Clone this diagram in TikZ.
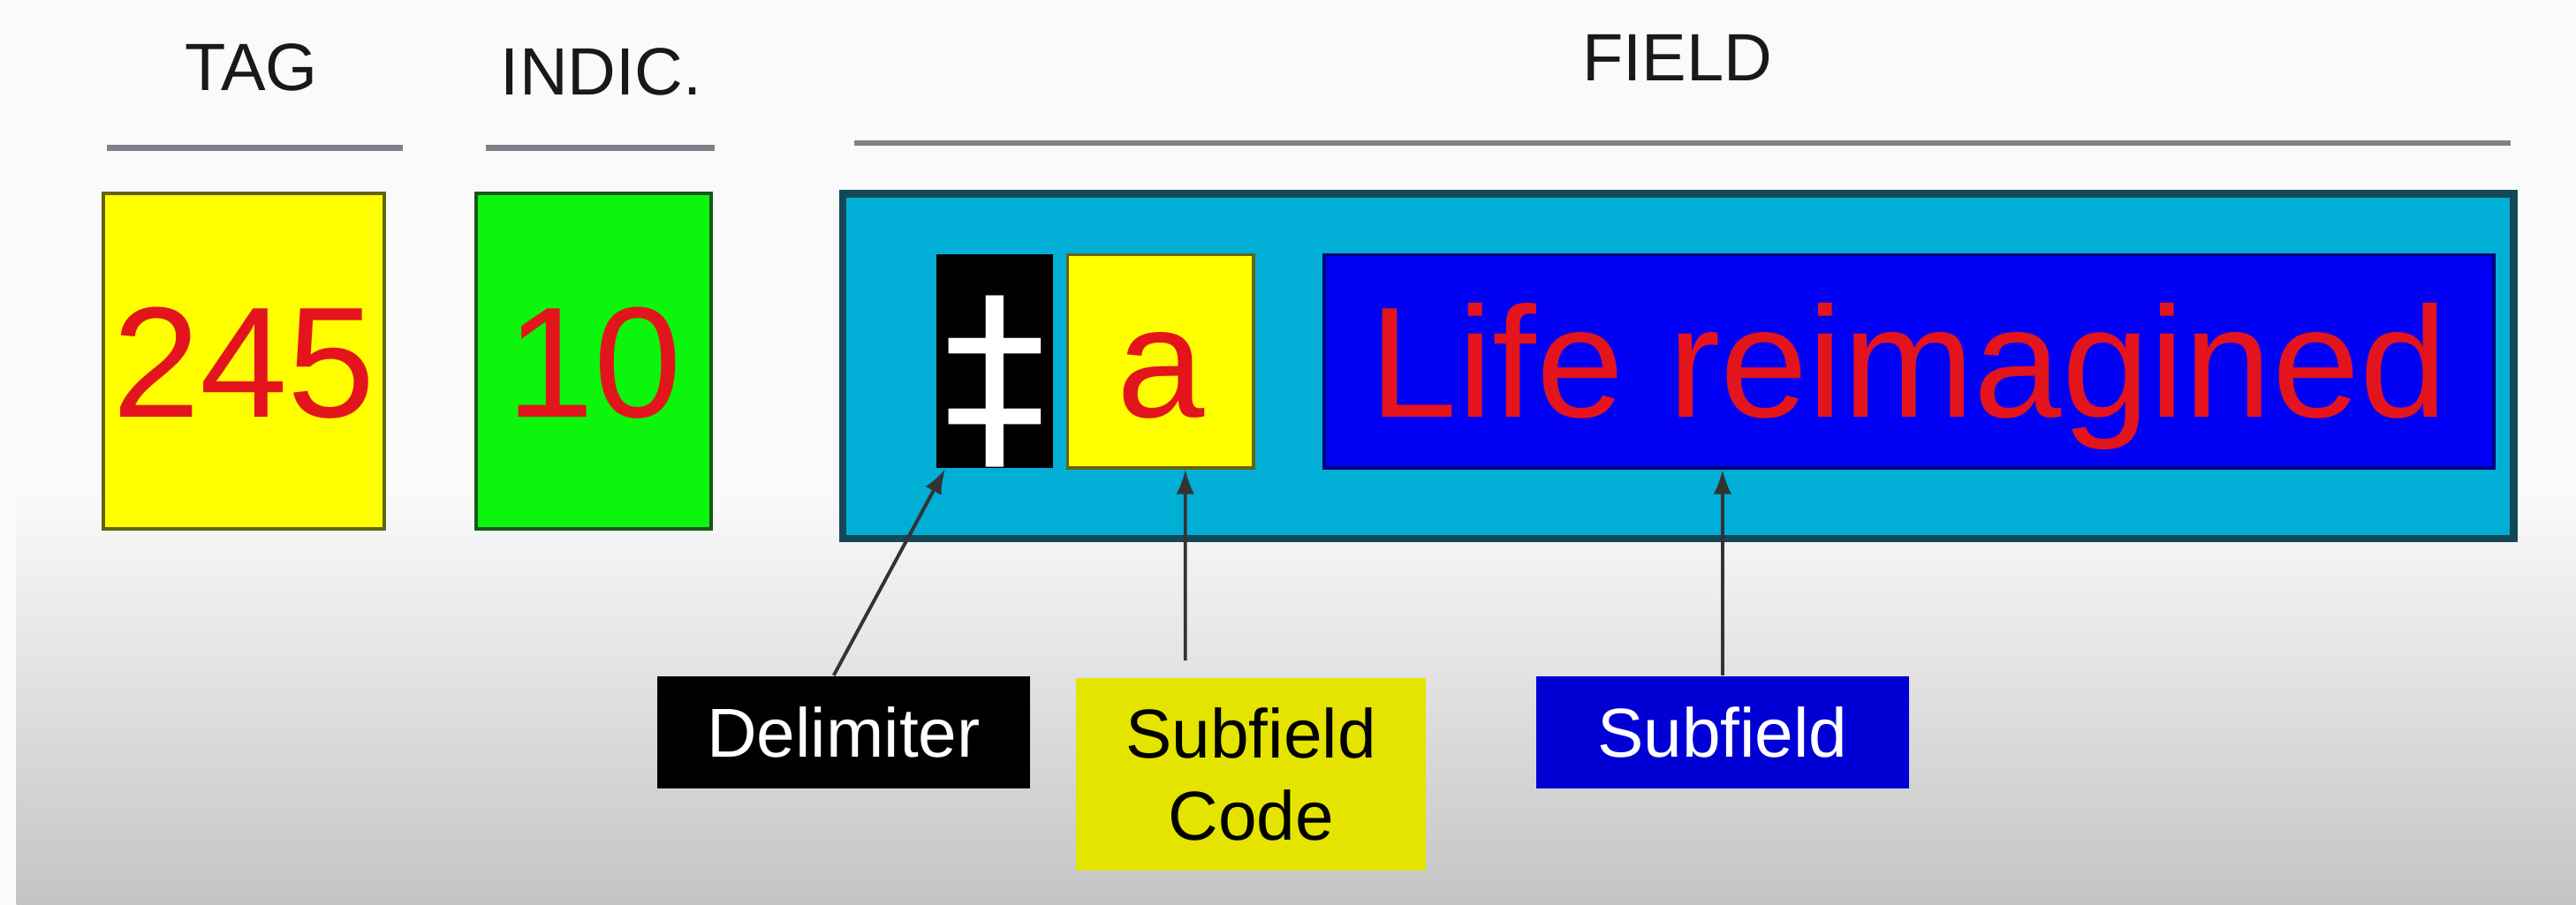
\documentclass[tikz,border=0pt]{standalone}
\usepackage{fontspec}
\setmainfont{Liberation Sans}
\newfontfamily\dagfont{DejaVu Sans}
\usetikzlibrary{arrows.meta}
\definecolor{tagyellow}{RGB}{255,255,0}
\definecolor{tagedge}{RGB}{100,100,20}
\definecolor{indgreen}{RGB}{12,245,12}
\definecolor{indedge}{RGB}{25,85,25}
\definecolor{fieldcyan}{RGB}{0,174,214}
\definecolor{fieldedge}{RGB}{18,72,88}
\definecolor{valblue}{RGB}{0,0,245}
\definecolor{valedge}{RGB}{0,0,120}
\definecolor{textred}{RGB}{228,20,28}
\definecolor{lblyellow}{RGB}{228,228,0}
\definecolor{lblblue}{RGB}{0,0,212}
\definecolor{rulegray}{RGB}{128,128,136}
\definecolor{bgtop}{RGB}{250,250,250}
\definecolor{bgbottom}{RGB}{196,196,196}
\tikzset{
	bigtext/.style={font=\fontsize{27.3}{30}\selectfont, text=textred, text height=19.5pt, text depth=0pt, inner sep=0pt},
	head/.style={font=\fontsize{11.6}{14}\selectfont, text=black!90},
	lbl/.style={font=\fontsize{12}{14.2}\selectfont, inner sep=0pt, align=center},
	arr/.style={-{Latex[length=1.5mm,width=1.1mm]}, draw=black!80, line width=0.6pt},
}
\begin{document}
\begin{tikzpicture}[x=0.1mm,y=-0.1mm]
				\useasboundingbox (0,0) rectangle (1568,551);
				\fill[bgtop] (0,0) rectangle (1568,551);
				\shade[top color=bgtop, bottom color=bgbottom] (10,300) rectangle (1568,551);
				\node[head, at={(153,41)}] (taghead) {TAG};
				\node[head, at={(366,44)}] (indhead) {INDIC.};
				\node[head, at={(1021,35)}] (fieldhead) {FIELD};
				\draw[rulegray, line width=1pt] (65,90)--(245,90);
				\draw[rulegray, line width=1pt] (296,90)--(435,90);
				\draw[rulegray, line width=1pt] (520,87)--(1528,87);
				\node[bigtext, draw=tagedge, line width=0.6pt, fill=tagyellow, minimum width=17.1mm, minimum height=20.4mm, at={(148.5,220)}] (tag) {245};
				\node[bigtext, draw=indedge, line width=0.6pt, fill=indgreen, minimum width=14.3mm, minimum height=20.4mm, at={(361.5,220)}] (ind) {10};
				\node[draw=fieldedge, line width=1.3pt, fill=fieldcyan, minimum width=101.7mm, minimum height=21mm, at={(1021.5,223)}] (field) {};
				\node[fill=black, minimum width=7.1mm, minimum height=13mm, at={(605.5,220)}] (delim) {};
				\node[text=white, inner sep=0pt, font=\dagfont\fontsize{36}{36}\selectfont, at={(605.5,232.5)}] (dagger) {‡};
				\node[bigtext, draw=tagedge, line width=0.5pt, fill=tagyellow, minimum width=11.3mm, minimum height=13mm, at={(706.5,220)}] (code) {a};
				\node[bigtext, draw=valedge, line width=0.5pt, fill=valblue, minimum width=71.2mm, minimum height=13mm, at={(1162,220)}] (value) {Life reimagined};
				\node[lbl, fill=black, text=white, minimum width=22.7mm, minimum height=6.8mm, at={(513.5,446)}] (lbldelim) {Delimiter};
				\node[lbl, fill=lblyellow, text=black, minimum width=21.3mm, minimum height=11.7mm, at={(761.5,471.5)}] (lblcode) {Subfield\\Code};
				\node[lbl, fill=lblblue, text=white, minimum width=22.7mm, minimum height=6.8mm, at={(1048.5,446)}] (lblval) {Subfield};
				\draw[arr] ([xshift=-0.6mm]lbldelim.north)--([xshift=0.6mm]delim.south west);
				\draw[arr] ([xshift=-4mm,yshift=1mm]lblcode.north)--([xshift=1.5mm]code.south);
				\draw[arr] (lblval.north)--(lblval.north |- value.south);
\end{tikzpicture}
\end{document}
